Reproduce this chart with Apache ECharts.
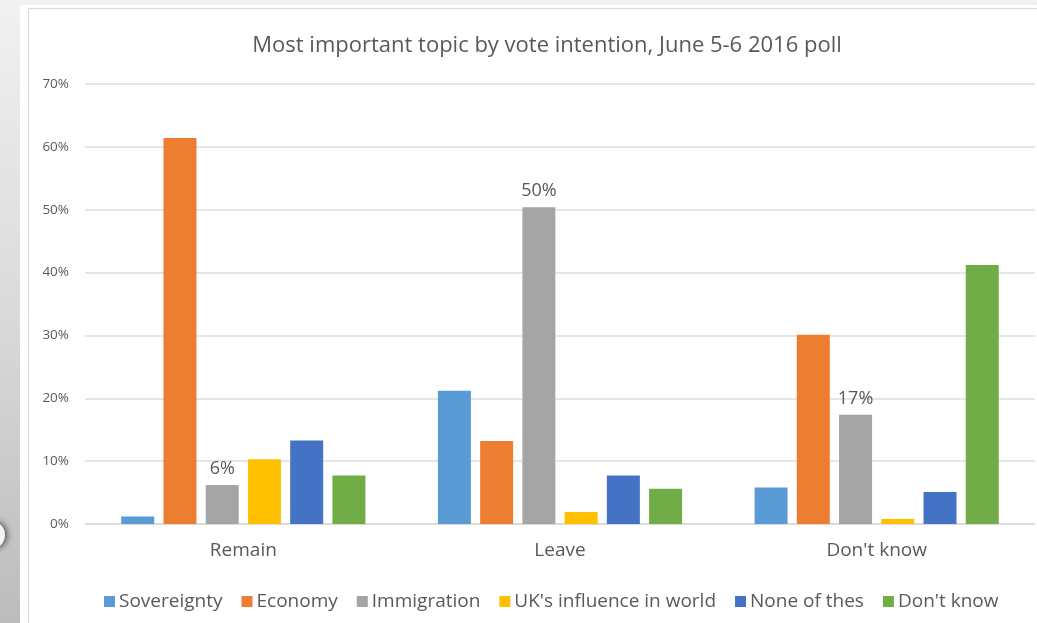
<!DOCTYPE html>
<html>
<head>
<meta charset="utf-8">
<script src="https://cdn.jsdelivr.net/npm/echarts@6/dist/echarts.min.js"></script>
<style>
html,body{margin:0;padding:0;background:#fff;}
#chart{width:1037px;height:623px;}
</style>
</head>
<body>
<div id="chart"></div>
<script>
const categories = ['Remain', 'Leave', "Don't know"];
const seriesNames = ['Sovereignty', 'Economy', 'Immigration', "UK's influence in world", 'None of thes', "Don't know"];
const sovereignty = [1.2, 21.2, 5.8];
const economy = [61.4, 13.2, 30.1];
const immigration = [6.2, 50.4, 17.4];
const ukInfluence = [10.3, 1.9, 0.8];
const noneOfThese = [13.3, 7.7, 5.1];
const dontKnow = [7.7, 5.6, 41.2];
const yTicks = [0, 10, 20, 30, 40, 50, 60, 70];
const colors = ['#5B9BD5', '#ED7D31', '#A5A5A5', '#FFC000', '#4472C4', '#70AD47'];
const values = [sovereignty, economy, immigration, ukInfluence, noneOfThese, dontKnow];

const font = "'Open Sans', 'Noto Sans', sans-serif";
const textColor = '#595959';

const chart = echarts.init(document.getElementById('chart'), null, {renderer: 'canvas'});

const series = seriesNames.map((name, i) => ({
  name: name,
  type: 'bar',
  data: values[i],
  barWidth: 33,
  barGap: '28%',
  itemStyle: {color: colors[i]},
  label: name === 'Immigration' ? {
    show: true,
    position: 'top',
    distance: 7,
    fontFamily: font,
    fontSize: 18,
    color: textColor,
    formatter: p => Math.round(p.value) + '%'
  } : {show: false}
}));

chart.setOption({
  animation: false,
  backgroundColor: 'transparent',
  graphic: [
    {type: 'rect', z: -30, silent: true, shape: {x: 0, y: 0, width: 1037, height: 623},
     style: {fill: new echarts.graphic.LinearGradient(0, 0, 0, 1, [
       {offset: 0, color: '#f1f1f1'}, {offset: 0.5, color: '#dadada'}, {offset: 1, color: '#bcbcbc'}])}},
    {type: 'rect', z: -29, silent: true, shape: {x: 20, y: 5, width: 1017, height: 618},
     style: {fill: '#ffffff'}},
    {type: 'rect', z: -28, silent: true, shape: {x: 28.5, y: 8.5, width: 1020, height: 620},
     style: {fill: '#ffffff', stroke: '#d9d9d9', lineWidth: 1}},
    {type: 'circle', z: -27, silent: true, shape: {cx: -9, cy: 535, r: 14},
     style: {fill: '#f4f4f4', shadowBlur: 6, shadowColor: 'rgba(0,0,0,0.6)', shadowOffsetX: 2}}
  ],
  title: {
    text: 'Most important topic by vote intention, June 5-6 2016 poll',
    left: 542,
    textAlign: 'center',
    top: 30,
    textStyle: {fontFamily: font, fontSize: 22, fontWeight: 'normal', color: textColor}
  },
  legend: {
    data: seriesNames,
    top: 587,
    left: 99,
    itemWidth: 11,
    itemHeight: 11,
    itemGap: 19,
    icon: 'rect',
    textStyle: {fontFamily: font, fontSize: 19, color: textColor, padding: [0, 0, 0, -1]}
  },
  grid: {left: 85, right: 2, top: 84, bottom: 99, containLabel: false},
  xAxis: {
    type: 'category',
    data: categories,
    axisLine: {lineStyle: {color: '#d9d9d9', width: 1.5}},
    axisTick: {show: false},
    axisLabel: {fontFamily: font, fontSize: 19, color: textColor, margin: 17}
  },
  yAxis: {
    type: 'value',
    min: yTicks[0],
    max: yTicks[yTicks.length - 1],
    interval: yTicks[1] - yTicks[0],
    axisLine: {show: false},
    axisTick: {show: false},
    splitLine: {lineStyle: {color: '#dedede', width: 1.5}},
    axisLabel: {fontFamily: font, fontSize: 13.5, color: textColor, margin: 16, formatter: '{value}%'}
  },
  series: series
});
</script>
</body>
</html>
